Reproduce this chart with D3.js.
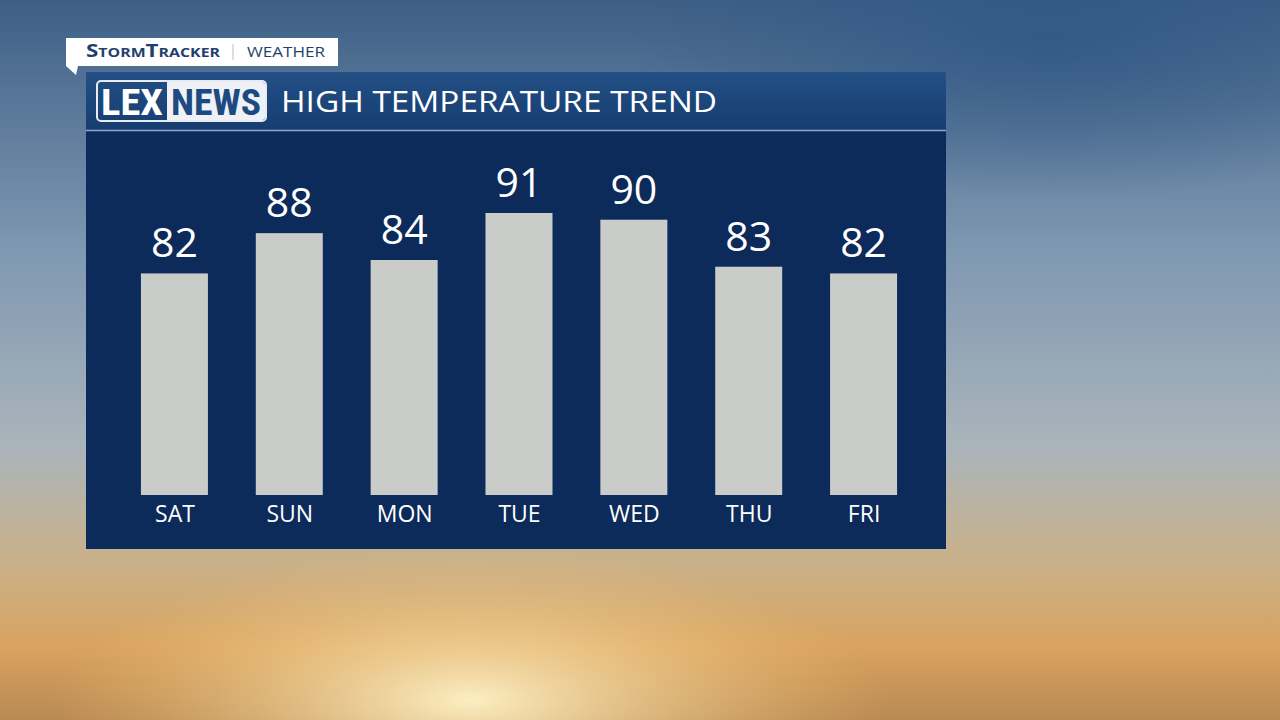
<!DOCTYPE html>
<html><head><meta charset="utf-8">
<script src="https://cdn.jsdelivr.net/npm/d3@7"></script>
<style>body{margin:0;overflow:hidden}svg{display:block;font-family:"Open Sans",Lato,sans-serif}</style>
</head><body>
<svg id="c" width="1280" height="720"></svg>
<script>
const days = ["SAT", "SUN", "MON", "TUE", "WED", "THU", "FRI"];
const highs = [82, 88, 84, 91, 90, 83, 82];
const title = "HIGH TEMPERATURE TREND";

const svg = d3.select("#c");
const defs = svg.append("defs");

// sky background
const sky = defs.append("linearGradient").attr("id", "sky").attr("x1", 0).attr("y1", 0).attr("x2", 0).attr("y2", 1);
[["0%", "#3d5f86"], ["35%", "#7f98b2"], ["62%", "#aab4bb"], ["78%", "#c9b18a"], ["90%", "#d9a25e"], ["100%", "#b98a55"]]
  .forEach(([o, c]) => sky.append("stop").attr("offset", o).attr("stop-color", c));
svg.append("rect").attr("width", 1280).attr("height", 720).attr("fill", "url(#sky)");
const sun = defs.append("radialGradient").attr("id", "sun").attr("cx", 0.5).attr("cy", 0.5).attr("r", 0.5);
sun.append("stop").attr("offset", "0%").attr("stop-color", "#fff3c8").attr("stop-opacity", 0.95);
sun.append("stop").attr("offset", "100%").attr("stop-color", "#f0c070").attr("stop-opacity", 0);
svg.append("ellipse").attr("cx", 470).attr("cy", 700).attr("rx", 420).attr("ry", 150).attr("fill", "url(#sun)");
const tr = defs.append("radialGradient").attr("id", "tr").attr("cx", 0.5).attr("cy", 0.5).attr("r", 0.5);
tr.append("stop").attr("offset", "0%").attr("stop-color", "#2e5683").attr("stop-opacity", 0.8);
tr.append("stop").attr("offset", "100%").attr("stop-color", "#2e5683").attr("stop-opacity", 0);
svg.append("ellipse").attr("cx", 1050).attr("cy", 40).attr("rx", 420).attr("ry", 160).attr("fill", "url(#tr)");

// tag
svg.append("path").attr("d", "M66,38 H338 V66 H78 L76,75 L66,66 Z").attr("fill", "#fff");
svg.append("text").attr("x", 86).attr("y", 57).attr("fill", "#1f3f6e").attr("font-size", 17).attr("font-weight", 700)
  .attr("font-variant", "small-caps").attr("textLength", 134).attr("lengthAdjust", "spacingAndGlyphs").text("StormTracker");
svg.append("line").attr("x1", 233).attr("x2", 233).attr("y1", 44).attr("y2", 60).attr("stroke", "#bbb");
svg.append("text").attr("x", 247).attr("y", 57).attr("fill", "#1f3f6e").attr("font-size", 15)
  .attr("textLength", 78).attr("lengthAdjust", "spacingAndGlyphs").text("WEATHER");

// panel
const hg = defs.append("linearGradient").attr("id", "hg").attr("x1", 0).attr("y1", 0).attr("x2", 0).attr("y2", 1);
hg.append("stop").attr("offset", "0%").attr("stop-color", "#235086");
hg.append("stop").attr("offset", "100%").attr("stop-color", "#163d70");
svg.append("rect").attr("x", 86).attr("y", 72).attr("width", 860).attr("height", 477).attr("fill", "#0c2a5a");
svg.append("rect").attr("x", 86).attr("y", 72).attr("width", 860).attr("height", 58).attr("fill", "url(#hg)");
svg.append("line").attr("x1", 86).attr("x2", 946).attr("y1", 130.5).attr("y2", 130.5).attr("stroke", "#8ea7c6").attr("stroke-width", 1.5);

// logo
svg.append("rect").attr("x", 97).attr("y", 81).attr("width", 169).attr("height", 40).attr("rx", 4).attr("fill", "none").attr("stroke", "#e8ecf2").attr("stroke-width", 2);
svg.append("path").attr("d", "M167,82 H262 Q265,82 265,85 V117 Q265,120 262,120 H167 Z").attr("fill", "#eef1f5");
svg.append("text").attr("x", 132).attr("y", 115).attr("text-anchor", "middle").attr("fill", "#fff").attr("font-size", 36).attr("font-weight", 700).attr("textLength", 62).attr("lengthAdjust", "spacingAndGlyphs").attr("font-family", "'Roboto Condensed','DejaVu Sans Condensed',sans-serif").text("LEX");
svg.append("text").attr("x", 216).attr("y", 115).attr("text-anchor", "middle").attr("fill", "#1d4a80").attr("font-size", 36).attr("font-weight", 700).attr("textLength", 90).attr("lengthAdjust", "spacingAndGlyphs").attr("font-family", "'Roboto Condensed','DejaVu Sans Condensed',sans-serif").text("NEWS");
svg.append("text").attr("x", 281).attr("y", 112).attr("fill", "#fff").attr("font-size", 29).attr("textLength", 436).attr("lengthAdjust", "spacingAndGlyphs").text(title);

// chart
const x = d3.scalePoint().domain(days).range([117, 921]).padding(0.5);
const y = d3.scaleLinear().domain([49, 91]).range([495, 213]);
const bw = 67;
const g = svg.append("g");
g.selectAll("rect.bar").data(days).join("rect").attr("class", "bar")
  .attr("x", d => x(d) - bw / 2).attr("width", bw)
  .attr("y", (d, i) => y(highs[i])).attr("height", (d, i) => y(y.domain()[0]) - y(highs[i]))
  .attr("fill", "#c9ccc9");
g.selectAll("text.val").data(days).join("text").attr("class", "val")
  .attr("x", d => x(d)).attr("y", (d, i) => y(highs[i]) - 16)
  .attr("text-anchor", "middle").attr("fill", "#fff").attr("font-size", 41).text((d, i) => highs[i]);
const ax = g.append("g").attr("transform", "translate(0,495)").call(d3.axisBottom(x).tickSize(0).tickPadding(7));
ax.select(".domain").remove();
ax.selectAll("text").attr("fill", "#fff").attr("font-size", 23).attr("font-family", "'Open Sans',sans-serif").attr("dy", "0.85em");
</script>
</body></html>
